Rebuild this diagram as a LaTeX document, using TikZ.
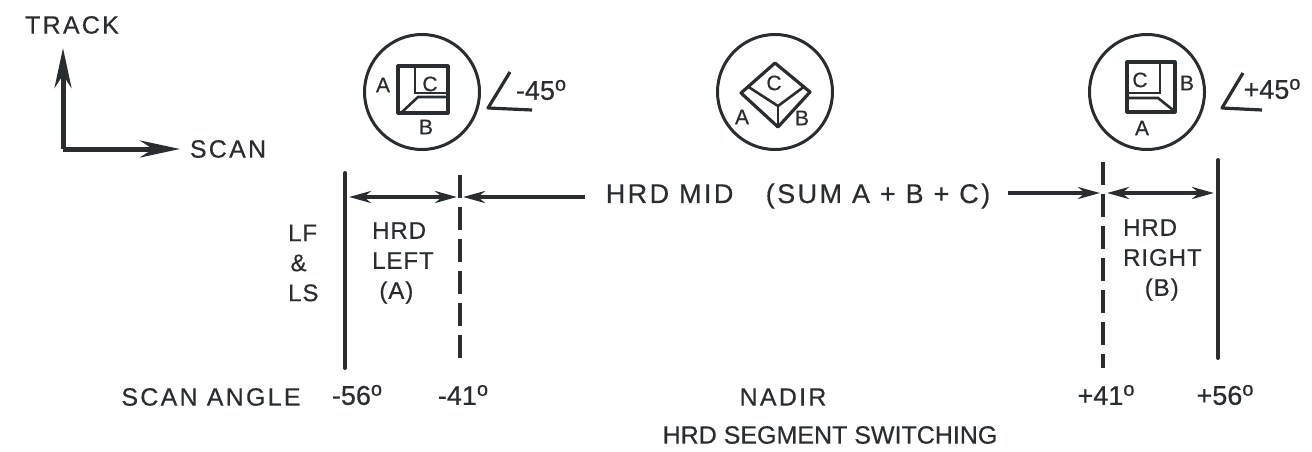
\documentclass[tikz,border=0pt]{standalone}
\usepackage{fontspec}
\setmainfont[FakeBold=0.5]{Liberation Sans}
\usetikzlibrary{arrows.meta,calc,positioning}
\definecolor{ScanInk}{HTML}{2A2D30}
\newcommand{\degsup}{\raisebox{9pt}{\fontsize{20}{20}\selectfont o}}
\begin{document}
\begin{tikzpicture}[
  x=1pt, y=-1pt,
  every node/.style={text=ScanInk},
  lbl/.style={font=\fontsize{25}{28}\selectfont, inner sep=0pt, align=center},
  deglbl/.style={font=\fontsize{27}{30}\selectfont, inner sep=0pt},
  widelbl/.style={font=\fontsize{25}{28}\selectfont\addfontfeature{LetterSpace=9}, inner sep=0pt},
  midlbl/.style={font=\fontsize{27}{30}\selectfont\addfontfeature{LetterSpace=9}, inner sep=0pt},
  seglbl/.style={font=\fontsize{24}{30}\selectfont\addfontfeature{LetterSpace=4}, inner sep=0pt, align=left},
  tinylbl/.style={font=\fontsize{21}{23}\selectfont, inner sep=0pt},
  dial/.style={circle, draw=ScanInk, line width=3pt, minimum size=115pt, inner sep=0pt},
  box/.style={draw=ScanInk, line width=3.2pt, line join=round},
  fine/.style={draw=ScanInk, line width=2.6pt},
  bound/.style={draw=ScanInk, line width=4pt, line cap=round},
  cut/.style={draw=ScanInk, line width=4pt, dash pattern=on 23pt off 9pt},
  axis/.style={-{Stealth[length=40pt,width=17pt]}, line width=5pt, draw=ScanInk},
  arr/.style={-{Stealth[length=22pt,width=12pt]}, line width=3.6pt, draw=ScanInk},
  dbl/.style={{Stealth[length=22pt,width=12pt]}-{Stealth[length=22pt,width=12pt]}, line width=3.6pt, draw=ScanInk}
]
\useasboundingbox (0,0) rectangle (1312,452);
% axes
\coordinate (corner) at (63,149);
\node[widelbl] (track) at (72,25) {TRACK};
\node[widelbl] (scan) at (228,149) {SCAN};
\coordinate (trackend) at (63,48);
\coordinate (scanend) at (180,149);
\draw[axis] (corner) -- (trackend);
\draw[axis] (corner) -- (scanend);
% left dial
\node[dial] (dialleft) at (422,92) {};
\node[tinylbl] (la) at (383,85) {A};
\node[tinylbl] (lc) at (430,84) {C};
\node[tinylbl] (lb) at (426,127) {B};
\draw[box] (398,66) rectangle (448,113);
\draw[fine] (415,66) -- (415,93) -- (448,93);
\draw[fine] (402,112) -- (418,97) -- (448,97);
\draw[box] (510,72) -- (488,108) -- (532,110);
\node[deglbl] (angleleft) at (541,90) {-45\degsup};
% mid dial
\node[dial] (dialmid) at (775,92) {};
\node[tinylbl] (ma) at (742,117) {A};
\node[tinylbl] (mc) at (774,83) {C};
\node[tinylbl] (mb) at (802,118) {B};
\draw[box] (775,63) -- (810,92) -- (778,127) -- (741,93) -- cycle;
\draw[fine] (747,86) -- (778,106) -- (805,86);
\draw[fine] (778,106) -- (778,125);
% right dial
\node[dial] (dialright) at (1147,92) {};
\node[tinylbl] (ra) at (1142,128) {A};
\node[tinylbl] (rc) at (1140,80) {C};
\node[tinylbl] (rb) at (1187,83) {B};
\draw[box] (1127,62) rectangle (1175,112);
\draw[fine] (1160,62) -- (1160,93) -- (1127,93);
\draw[fine] (1127,98) -- (1158,98) -- (1173,110);
\draw[box] (1243,73) -- (1222,108) -- (1262,110);
\node[deglbl] (angleright) at (1272,89) {+45\degsup};
% boundaries
\coordinate (ltop) at (345,173);
\coordinate (lbot) at (345,368);
\coordinate (lmtop) at (460,175);
\coordinate (lmbot) at (460,365);
\coordinate (rmtop) at (1103,162);
\coordinate (rmbot) at (1103,368);
\coordinate (rtop) at (1218,160);
\coordinate (rbot) at (1218,358);
\draw[bound] (ltop) -- (lbot);
\draw[cut] (lmtop) -- (lmbot);
\draw[cut] (rmtop) -- (rmbot);
\draw[bound] (rtop) -- (rbot);
% spans
\node[midlbl] (mid) at (798,196) {HRD MID\hspace{1.2em}(SUM A + B + C)};
\coordinate (la1) at (349,197);
\coordinate (la2) at (457,197);
\coordinate (la3) at (463,197);
\coordinate (midl) at (585,197);
\coordinate (ra1) at (1107,193);
\coordinate (ra2) at (1214,193);
\coordinate (ra3) at (1100,193);
\coordinate (midr) at (1008,193);
\draw[dbl] (la1) -- (la2);
\draw[dbl] (ra1) -- (ra2);
\draw[arr] (midl) -- (la3);
\draw[arr] (midr) -- (ra3);
% labels
\node[seglbl, anchor=west] (lfls) at (288,263) {LF\\\hspace*{0.1em}\&\\LS};
\node[seglbl, anchor=west] (hrdleft) at (372,263) {HRD\\LEFT\\\hspace*{0.3em}(A)};
\node[seglbl, anchor=west] (hrdright) at (1123,260) {HRD\\RIGHT\\\hspace*{0.9em}(B)};
\node[widelbl] (angle) at (211,397) {SCAN ANGLE};
\node[deglbl] (am56) at (357,395) {-56\degsup};
\node[deglbl] (am41) at (463,395) {-41\degsup};
\node[widelbl] (nadir) at (783,397) {NADIR};
\node[deglbl] (ap41) at (1106,395) {+41\degsup};
\node[deglbl] (ap56) at (1225,395) {+56\degsup};
\node[lbl] (title) at (830,435) {HRD SEGMENT SWITCHING};
\end{tikzpicture}
\end{document}
